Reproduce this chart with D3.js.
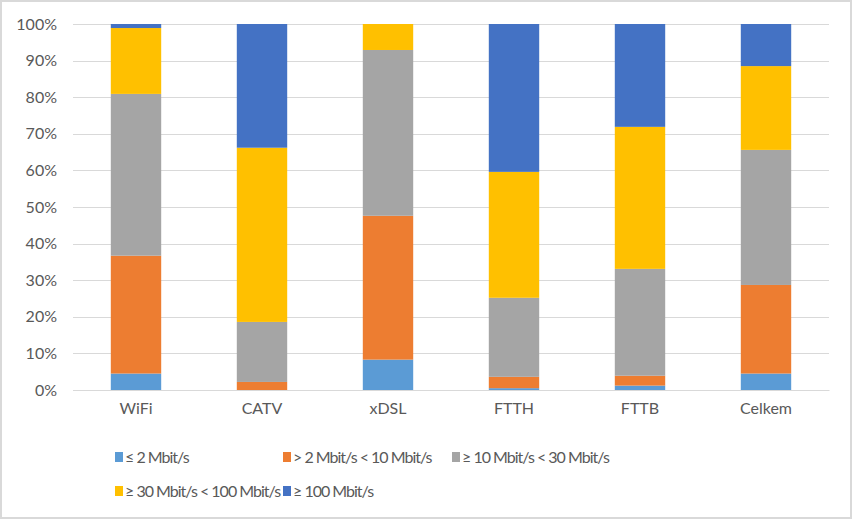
<!DOCTYPE html>
<html>
<head>
<meta charset="utf-8">
<script src="https://cdn.jsdelivr.net/npm/d3@7"></script>
<style>
  html, body { margin: 0; padding: 0; background: #fff; }
  svg { display: block; }
  text { font-family: Lato, "Open Sans", sans-serif; fill: #595959; }
</style>
</head>
<body>
<svg id="chart" width="852" height="519"></svg>
<script>
const categories = ["WiFi", "CATV", "xDSL", "FTTH", "FTTB", "Celkem"];
const seriesNames = ["≤ 2 Mbit/s", "> 2 Mbit/s < 10 Mbit/s", "≥ 10 Mbit/s < 30 Mbit/s", "≥ 30 Mbit/s < 100 Mbit/s", "≥ 100 Mbit/s"];
const le2 =      [4.5, 0.0, 8.3, 0.5, 1.2, 4.5];
const gt2lt10 =  [32.2, 2.2, 39.3, 3.1, 2.7, 24.2];
const ge10lt30 = [44.2, 16.4, 45.3, 21.6, 29.2, 36.9];
const ge30lt100 =[18.0, 47.6, 7.1, 34.4, 38.8, 22.9];
const ge100 =    [1.1, 33.8, 0.0, 40.4, 28.1, 11.5];
const yTicks = [0, 10, 20, 30, 40, 50, 60, 70, 80, 90, 100];
const colors = ["#5B9BD5", "#ED7D31", "#A5A5A5", "#FFC000", "#4472C4"];

const seriesValues = [le2, gt2lt10, ge10lt30, ge30lt100, ge100];
const keys = seriesNames;
const rows = categories.map((c, i) => {
  const r = { cat: c };
  keys.forEach((k, j) => r[k] = seriesValues[j][i]);
  return r;
});

const svg = d3.select("#chart");
const W = 852, H = 519;
const m = { left: 73, right: 23, top: 24, bottom: 129 };

svg.append("rect").attr("x", 1).attr("y", 1).attr("width", W - 2).attr("height", H - 2)
  .attr("fill", "#fff").attr("stroke", "#D9D9D9").attr("stroke-width", 2);

const x = d3.scaleBand().domain(categories).range([m.left, W - m.right]).paddingInner(0.6).paddingOuter(0.3);
const y = d3.scaleLinear().domain([0, 100]).range([H - m.bottom, m.top]);

// gridlines
svg.append("g").selectAll("line").data(yTicks).join("line")
  .attr("x1", m.left).attr("x2", W - m.right)
  .attr("y1", d => Math.round(y(d)) + 0.5).attr("y2", d => Math.round(y(d)) + 0.5)
  .attr("stroke", "#D9D9D9").attr("stroke-width", 1);

// bars
const stack = d3.stack().keys(keys)(rows);
svg.append("g").selectAll("g").data(stack).join("g")
  .attr("fill", (d, i) => colors[i])
  .selectAll("rect").data(d => d).join("rect")
  .attr("x", d => x(d.data.cat))
  .attr("width", x.bandwidth())
  .attr("y", d => y(d[1]))
  .attr("height", d => Math.max(0, y(d[0]) - y(d[1])));

// y axis
const yAxis = svg.append("g").attr("transform", `translate(${m.left},0)`)
  .call(d3.axisLeft(y).tickValues(yTicks).tickFormat(d => d + "%").tickSize(0).tickPadding(16));
yAxis.select(".domain").remove();
yAxis.selectAll("text").style("font-size", "16px").style("fill", "#595959").style("font-family", "Lato, sans-serif");

// x axis
const xAxis = svg.append("g").attr("transform", `translate(0,${H - m.bottom})`)
  .call(d3.axisBottom(x).tickSize(0).tickPadding(13));
xAxis.select(".domain").attr("stroke", "#D9D9D9");
xAxis.selectAll("text").style("font-size", "16px").style("fill", "#595959").style("font-family", "Lato, sans-serif");

// legend
const legendPos = [[115, 457], [283, 457], [452, 457], [115, 491], [283, 491]];
const lg = svg.append("g").selectAll("g").data(seriesNames).join("g")
  .attr("transform", (d, i) => `translate(${legendPos[i][0]},${legendPos[i][1]})`);
lg.append("rect").attr("x", 0).attr("y", -5).attr("width", 8).attr("height", 10).attr("fill", (d, i) => colors[i]);
lg.append("text").attr("x", 10).attr("y", 0).attr("dy", "0.35em")
  .style("font-size", "16px").style("letter-spacing", "-1px").text(d => d);
</script>
</body>
</html>
